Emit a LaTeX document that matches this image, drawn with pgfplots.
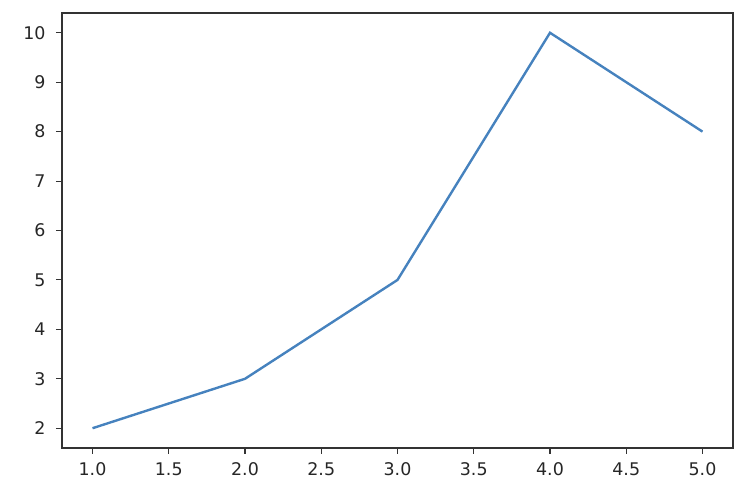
\documentclass[border=0pt]{standalone}
\usepackage{fontspec}
\setmainfont{DejaVu Sans}
\usepackage{pgfplots}
\pgfplotsset{compat=1.18}
\definecolor{mplblue}{RGB}{70,130,190}
\begin{document}
\begin{tikzpicture}[x=1bp,y=1bp]
\path (-62bp,-42bp) rectangle (690bp,448bp);
\begin{axis}[
  at={(0,0)}, anchor=south west,
  scale only axis,
  width=671bp, height=435bp,
  xmin=0.8, xmax=5.2, ymin=1.6, ymax=10.4,
  xtick={1,1.5,...,5},
  ytick={2,3,...,10},
  xticklabel style={/pgf/number format/fixed,/pgf/number format/fixed zerofill,/pgf/number format/precision=1},
  /pgf/number format/assume math mode=true,
  tick label style={font=\fontsize{17.5}{20}\selectfont, text=black!85},
  axis line style={black!80, line width=1.1bp},
  tick style={black!80, line width=1.1bp},
  major tick length=6bp,
  tick align=outside,
  xtick pos=bottom, ytick pos=left,
  xticklabel shift=5bp, yticklabel shift=7bp,
]
\addplot[mplblue, line width=2.4bp, mark=none] coordinates {(1,2) (2,3) (3,5) (4,10) (5,8)};
\end{axis}
\end{tikzpicture}
\end{document}
